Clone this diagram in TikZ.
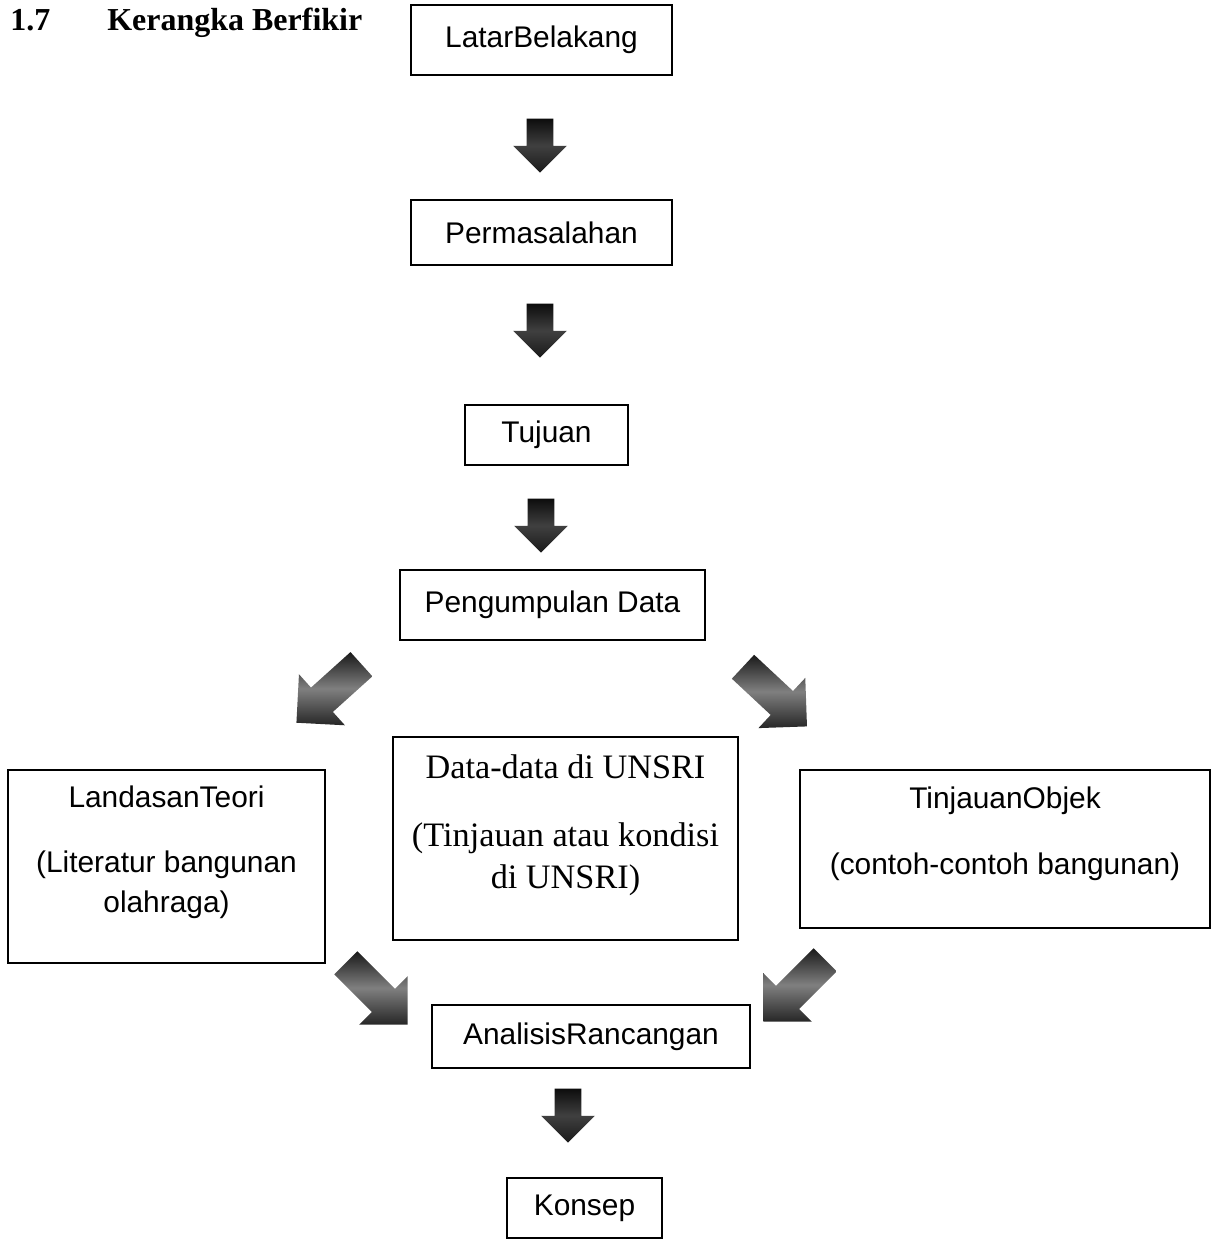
\documentclass[tikz,border=0pt]{standalone}
\usepackage{fontspec}
\setmainfont{Liberation Serif}
\setsansfont{Liberation Sans}
\usetikzlibrary{shapes.arrows}
\tikzset{
  box/.style={draw=black, line width=1.1pt, inner sep=0pt, align=center,
    font=\sffamily\fontsize{17}{22.7}\selectfont},
  serifbox/.style={box, font=\rmfamily\fontsize{19.5}{23.8}\selectfont},
  boxtext/.style={inner sep=0pt, align=center},
  downarrow/.style={single arrow, draw=none, rotate=-90, inner xsep=0pt, inner ysep=0.26cm,
    minimum height=1.08cm, single arrow head extend=0.27cm,
    top color=black!95, bottom color=black!90, middle color=black!75},
  slantarrow/.style={single arrow, draw=none, inner xsep=0pt, inner ysep=0.32cm,
    minimum height=1.75cm, single arrow head extend=0.36cm,
    top color=black!90, bottom color=black!85, middle color=black!50}
}
\begin{document}
\begin{tikzpicture}[x=0.02cm, y=-0.02cm]
  \useasboundingbox (0,0) rectangle (1220,1246);
  % judul
  \node [anchor=base west, inner sep=0pt, font=\bfseries\fontsize{18.2}{22}\selectfont] (nomor) at (10,31) {1.7};
  \node [anchor=base west, inner sep=0pt, font=\bfseries\fontsize{18.2}{22}\selectfont] (judul) at (107,31) {Kerangka Berfikir};
  % alur utama
  \node [box, minimum width=5.22cm, minimum height=1.4cm] (latar) at (541.5,40) {LatarBelakang};
  \node [box, minimum width=5.22cm, minimum height=1.3cm] (masalah) at (541.5,232.5) {Permasalahan};
  \node [box, minimum width=3.26cm, minimum height=1.2cm] (tujuan) at (546.5,435) {Tujuan};
  \node [box, minimum width=6.1cm, minimum height=1.4cm] (kumpul) at (552.5,605) {Pengumpulan Data};
  % tiga kajian
  \node [box, minimum width=6.34cm, minimum height=3.86cm] (landasan) at (166.5,866.5) {};
  \node [boxtext, font=\sffamily\fontsize{17}{22.7}\selectfont] (landasantxt) at ([yshift=0.28cm]landasan.center)
    {LandasanTeori\\[0.5cm](Literatur bangunan\\olahraga)};
  \node [serifbox, minimum width=6.9cm, minimum height=4.06cm] (datadata) at (565.5,838.5) {};
  \node [boxtext, font=\rmfamily\fontsize{19.5}{23.8}\selectfont] (datatxt) at ([yshift=0.27cm]datadata.center)
    {Data-data di UNSRI\\[0.52cm](Tinjauan atau kondisi\\di UNSRI)};
  \node [box, minimum width=8.2cm, minimum height=3.16cm] (tinjauan) at (1005,849) {};
  \node [boxtext, font=\sffamily\fontsize{17}{22.7}\selectfont] (tinjauantxt) at ([yshift=0.3cm]tinjauan.center)
    {TinjauanObjek\\[0.52cm](contoh-contoh bangunan)};
  % hasil
  \node [box, minimum width=6.36cm, minimum height=1.26cm] (analisis) at (591,1036.5) {AnalisisRancangan};
  \node [box, minimum width=3.1cm, minimum height=1.2cm] (konsep) at (584.5,1208) {Konsep};
  % panah
  \node [downarrow] (ar1) at (540,139) {};
  \node [downarrow] (ar2) at (540,324) {};
  \node [downarrow] (ar3) at (541,519) {};
  \node [downarrow] (ar4) at (568,1109) {};
  \node [slantarrow, rotate=222] (ar5) at (335,688) {};
  \node [slantarrow, rotate=-43] (ar6) at (769,691) {};
  \node [slantarrow, rotate=-45] (ar7) at (371,988) {};
  \node [slantarrow, rotate=225] (ar8) at (800,985) {};
\end{tikzpicture}
\end{document}
